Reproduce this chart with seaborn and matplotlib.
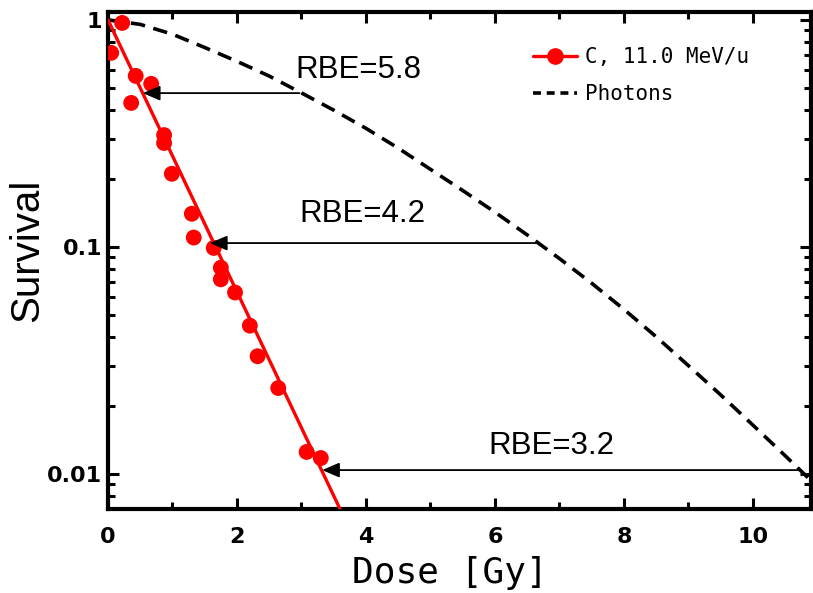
import numpy as np
import pandas as pd
import matplotlib
matplotlib.use("Agg")
import matplotlib.pyplot as plt
from matplotlib.lines import Line2D
from matplotlib.ticker import FixedLocator, NullFormatter, LogLocator
import seaborn as sns

# Carbon ions, 11.0 MeV/u: measured survival
ion_dose = [0.05, 0.22, 0.36, 0.43, 0.67, 0.87, 0.87, 0.99, 1.30, 1.33,
            1.64, 1.75, 1.75, 1.97, 2.20, 2.32, 2.64, 3.08, 3.30]
ion_surv = [0.716, 0.97, 0.431, 0.567, 0.523, 0.311, 0.287, 0.210, 0.140, 0.110,
            0.099, 0.081, 0.072, 0.063, 0.045, 0.033, 0.0239, 0.0125, 0.01175]

# exponential fit to the ion data (end points of the straight line on log scale)
ion_fit_dose = [0.0, 3.80]
ion_fit_surv = [1.0, 0.0053]

# photon reference curve
photon_dose = [0.0, 0.5, 1.0, 1.5, 2.0, 2.5, 3.0, 3.5, 4.0, 4.5, 5.0, 5.5,
               6.0, 6.5, 7.0, 7.5, 8.0, 8.5, 9.0, 9.5, 10.0, 10.5, 11.0]
photon_surv = [1.000, 0.956, 0.865, 0.756, 0.657, 0.566, 0.477, 0.4005, 0.333,
               0.2725, 0.2198, 0.1773, 0.1423, 0.1130, 0.0889, 0.0692, 0.0531,
               0.0402, 0.0300, 0.0223, 0.01641, 0.01203, 0.00878]

# iso-effect arrows: survival level, photon dose, ion dose, label
rbe_level = [0.476, 0.104, 0.0104]
rbe_photon_dose = [2.97, 6.64, 10.70]
rbe_ion_dose = [0.54, 1.58, 3.32]
rbe_labels = ["RBE=5.8", "RBE=4.2", "RBE=3.2"]
rbe_label_dose = [3.88, 3.94, 6.87]
rbe_label_surv = [0.602, 0.140, 0.0133]

x_major = [0, 2, 4, 6, 8, 10]
x_minor = [1, 3, 5, 7, 9]
y_major = [0.01, 0.1, 1]
y_major_labels = ["0.01", "0.1", "1"]

sns.set_style("ticks")
plt.rcParams["font.family"] = ["Liberation Sans", "DejaVu Sans"]
plt.rcParams.update({"text.color": "black", "axes.labelcolor": "black",
                     "xtick.color": "black", "ytick.color": "black"})

fig = plt.figure(figsize=(8.13, 5.93), dpi=100)
ax = fig.add_axes([0.1328, 0.1417, 0.9975 - 0.1328, 0.9798 - 0.1417])

ions = pd.DataFrame({"dose": ion_dose, "survival": ion_surv})
ion_fit = pd.DataFrame({"dose": ion_fit_dose, "survival": ion_fit_surv})
photons = pd.DataFrame({"dose": photon_dose, "survival": photon_surv})

red = "#ff0000"
sns.lineplot(data=photons, x="dose", y="survival", ax=ax, color="black",
             lw=2.6, sort=False, estimator=None, zorder=2)
ax.lines[-1].set_dashes((4.0, 2.4))
sns.lineplot(data=ion_fit, x="dose", y="survival", ax=ax, color=red,
             lw=2.4, sort=False, estimator=None, zorder=3)
sns.scatterplot(data=ions, x="dose", y="survival", ax=ax, color=red,
                s=130, edgecolor="none", zorder=4)

for lvl, dp, di in zip(rbe_level, rbe_photon_dose, rbe_ion_dose):
    ax.annotate("", xy=(di, lvl), xytext=(dp, lvl),
                arrowprops=dict(arrowstyle="-|>,head_length=0.7,head_width=0.3",
                                mutation_scale=15, lw=1.3, color="black",
                                shrinkA=0, shrinkB=0), zorder=5)
for txt, dx, sy in zip(rbe_labels, rbe_label_dose, rbe_label_surv):
    ax.text(dx, sy, txt, ha="center", va="center", fontsize=22.5,
            family=["Liberation Sans", "DejaVu Sans"], zorder=6)

ax.set_yscale("log")
ax.set_xlim(0, 10.9)
ax.set_ylim(0.00701, 1.084)

ax.xaxis.set_major_locator(FixedLocator(x_major))
ax.xaxis.set_minor_locator(FixedLocator(x_minor))
ax.set_xticklabels([str(v) for v in x_major])
ax.yaxis.set_major_locator(FixedLocator(y_major))
ax.yaxis.set_minor_locator(LogLocator(base=10, subs=np.arange(2, 10)))
ax.yaxis.set_minor_formatter(NullFormatter())
ax.set_yticklabels(y_major_labels)

ax.tick_params(which="both", direction="in", top=True, right=True,
               color="black", width=2.2)
ax.tick_params(which="major", length=8)
ax.tick_params(which="minor", length=5)
ax.tick_params(axis="x", which="major", pad=13)
ax.tick_params(axis="y", which="major", pad=4)
for lab in ax.get_xticklabels() + ax.get_yticklabels():
    lab.set_family(["Liberation Sans Narrow", "DejaVu Sans"])
    lab.set_fontweight("bold")
    lab.set_fontsize(16)
    lab.set_color("black")

for side in ["left", "right", "top", "bottom"]:
    ax.spines[side].set_visible(True)
    ax.spines[side].set_linewidth(3.0)
    ax.spines[side].set_color("black")

ax.set_ylabel("Survival", fontsize=29, family=["Liberation Sans", "DejaVu Sans"])
ax.yaxis.set_label_coords(-0.088, 0.52)
ax.set_xlabel("Dose [Gy]", fontsize=26, family=["DejaVu Sans Mono"])
ax.xaxis.set_label_coords(0.4865, -0.095)

handles = [
    Line2D([], [], color=red, lw=2.4, marker="o", markersize=12, markeredgewidth=0),
    Line2D([], [], color="black", lw=2.6, dashes=(2.2, 1.6)),
]
leg = ax.legend(handles, ["C, 11.0 MeV/u", "Photons"], loc="upper left",
                bbox_to_anchor=(0.6046, 0.929), frameon=False, borderpad=0,
                borderaxespad=0, handlelength=2.1, handletextpad=0.4,
                labelspacing=0.8, prop={"family": "DejaVu Sans Mono", "size": 15})
for t in leg.get_texts():
    t.set_color("black")

fig.savefig("out.png", dpi=100)
